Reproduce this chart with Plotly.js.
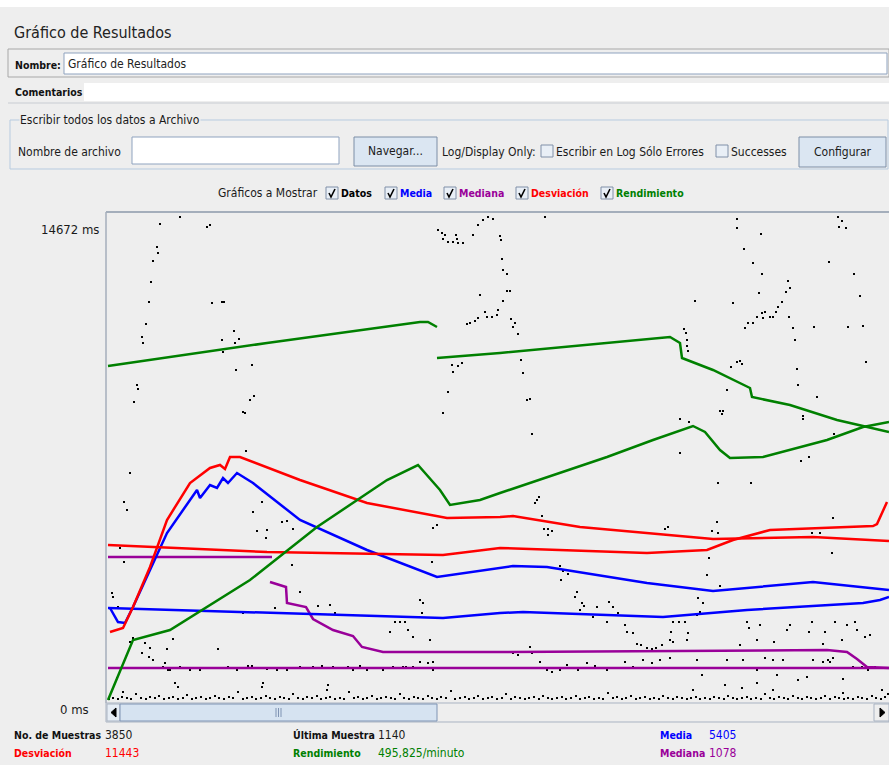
<!DOCTYPE html>
<html><head><meta charset="utf-8">
<script src="https://cdn.plot.ly/plotly-3.0.1.min.js"></script>
<style>html,body{margin:0;padding:0;background:#eeeeee;overflow:hidden;} #g{width:889px;height:765px;}</style>
</head><body><div id="g"></div>
<script>
// ---------- DATA (x = sample column, value = ms) ----------
const yMaxLabel = "14672 ms";
const yMinLabel = "0 ms";

const rendA_x  = [2, 161, 314, 322, 331];
const rendA_ms = [10080, 10770, 11400, 11400, 11250];
const rendB_x  = [331, 394, 564, 574, 576, 607, 644, 646, 684, 731, 757, 783];
const rendB_ms = [10320, 10470, 10950, 10770, 10320, 9960, 9420, 9150, 8910, 8460, 8280, 8100];
const rendC_x  = [2, 27, 64, 144, 211, 281, 312, 334, 344, 374, 394, 501, 547, 587, 599, 614, 624, 657, 721, 757, 783];
const rendC_ms = [60, 1860, 2160, 3660, 5250, 6660, 7110, 6360, 5910, 6060, 6270, 7350, 7860, 8280, 8100, 7560, 7320, 7350, 7860, 8250, 8400];

const desvA_x  = [4, 17, 27, 44, 61, 84, 104, 114, 119, 124, 134, 194, 261, 341, 394, 407, 474, 607, 707, 783];
const desvA_ms = [2100, 2220, 2850, 4050, 5460, 6570, 7020, 7110, 6990, 7350, 7350, 6660, 5970, 5520, 5550, 5580, 5250, 4890, 4950, 4830];
const desvB_x  = [2, 161, 337, 394, 541, 601, 627, 664, 767, 771, 781];
const desvB_ms = [4710, 4500, 4410, 4620, 4470, 4560, 4860, 5160, 5280, 5340, 6000];

const mediaA_x  = [4, 12, 19, 27, 44, 61, 91, 94, 104, 111, 117, 122, 131, 147, 194, 261, 331, 394, 407, 441, 541, 607, 707, 783];
const mediaA_ms = [2820, 2400, 2370, 2850, 3960, 5070, 6360, 6120, 6510, 6420, 6720, 6570, 6870, 6570, 5460, 4560, 3750, 4020, 4080, 4050, 3570, 3330, 3600, 3360];
const mediaB_x  = [2, 161, 337, 394, 417, 557, 641, 757, 774, 783];
const mediaB_ms = [2820, 2670, 2520, 2670, 2700, 2550, 2760, 2970, 3060, 3150];

const medianaA_x  = [2, 166];
const medianaA_ms = [4350, 4350];
const medianaC_x  = [164, 180, 181, 200, 207, 227, 247, 256, 277, 394, 721, 741, 751, 761, 783];
const medianaC_ms = [3600, 3450, 2970, 2850, 2490, 2160, 1980, 1650, 1500, 1500, 1560, 1500, 1290, 1050, 1020];
const medianaB_x  = [2, 783];
const medianaB_ms = [1020, 1020];

// scattered samples [column, ms]
const datos = [
[54,14340],[74,14550],[104,14310],[101,14250],[51,13650],[52,13470],[47,13230],[45,12600],[43,12000],[40,11340],
[36,10950],[37,10770],[31,9510],[32,9390],[28,9000],[106,11970],[116,12000],[118,12000],[128,11130],[116,10860],
[129,10770],[133,10890],[117,10500],[146,10110],[130,9960],[148,9180],[144,9060],[137,8700],[139,8670],[140,7530],
[332,14160],[336,14070],[339,14010],[342,13800],[337,13890],[347,13800],[351,13890],[352,13770],[357,13770],[350,14010],
[367,14010],[372,14310],[377,14460],[382,14550],[387,14490],[374,12210],[361,11340],[364,11370],[369,11430],[372,11520],
[379,11700],[381,11550],[386,11550],[391,11610],[392,11760],[346,10110],[347,9900],[352,10080],[356,10170],[342,9300],
[337,8670],[439,14550],[394,13980],[395,13860],[396,13290],[397,12960],[401,12840],[401,12330],[404,12330],[397,12030],
[405,11490],[409,11370],[407,11250],[412,11040],[415,10260],[417,9870],[421,9060],[424,9090],[426,8040],[589,12030],
[578,11190],[580,11070],[581,10860],[581,10680],[582,10530],[574,8490],[583,8400],[631,14490],[631,14220],[655,14040],
[638,13590],[647,13170],[656,12840],[653,12270],[627,11970],[682,12630],[684,12420],[680,12300],[676,12000],[672,11850],
[670,11700],[667,11550],[664,11550],[659,11700],[656,11670],[657,11520],[651,11550],[647,11370],[642,11370],[639,11220],
[683,11550],[687,11220],[689,10860],[708,11250],[742,11250],[757,11280],[691,9990],[692,9510],[711,9150],[760,10200],
[723,13200],[732,14550],[736,14430],[733,14250],[740,14220],[748,12840],[754,12180],[625,10050],[631,10200],[634,10230],
[636,10140],[621,9360],[614,8730],[617,8730],[616,8640],[697,8580],[697,8490],[728,8040],[703,7350],[574,7470],
[24,6870],[18,6000],[21,5760],[147,5700],[156,6000],[151,5130],[161,5160],[160,4920],[176,5400],[181,5430],
[187,5190],[14,4620],[18,4200],[186,4110],[326,4200],[327,5220],[331,5310],[6,3270],[7,3150],[12,2850],
[27,1920],[24,1800],[39,1770],[44,1620],[36,1470],[43,1350],[47,1260],[59,1170],[64,960],[67,1890],
[61,1590],[112,1590],[137,2670],[169,2820],[194,3300],[212,2880],[224,2910],[229,2670],[289,2400],[294,2400],
[299,2400],[284,2100],[302,2160],[307,1950],[314,3060],[317,2970],[324,1860],[316,2670],[327,960],[327,1200],
[69,570],[72,450],[157,570],[156,450],[222,510],[221,360],[11,720],[17,300],[57,1050],[62,960],
[74,1050],[84,960],[94,960],[104,1020],[112,1020],[122,1050],[131,960],[142,1080],[146,1080],[151,1020],
[161,990],[171,960],[181,960],[194,1050],[207,1050],[216,1080],[227,1050],[242,1050],[247,960],[254,1080],
[261,960],[271,1020],[277,960],[287,1050],[297,1050],[300,1050],[307,1050],[314,1200],[322,1170],[429,5970],
[431,6060],[433,6150],[436,5580],[438,5190],[442,5190],[446,5130],[442,5010],[562,5250],[559,5190],[606,5130],
[611,5400],[612,5070],[612,6570],[645,6570],[695,7230],[727,5520],[706,5070],[714,5070],[726,4470],[603,4320],
[601,3810],[614,3480],[454,4080],[457,3930],[462,3840],[455,3660],[471,3300],[469,3150],[476,2970],[478,2880],
[474,2760],[491,2850],[487,2550],[501,2400],[503,3000],[507,2850],[512,2670],[519,2310],[521,2100],[527,2070],
[531,1740],[535,1710],[541,1620],[546,1590],[550,1620],[556,1710],[565,2100],[567,2400],[573,2400],[579,2400],
[582,2070],[581,1860],[564,1860],[567,1800],[592,3120],[597,2970],[594,2700],[591,2610],[634,1710],[641,2400],
[643,2220],[651,1860],[654,2310],[668,1800],[684,2310],[681,2160],[703,2100],[706,2400],[719,2100],[717,1740],
[729,2400],[736,1860],[741,2310],[749,2400],[751,2160],[759,1950],[764,2010],[727,1320],[724,1200],[424,1650],
[426,1470],[407,1470],[412,1410],[434,1200],[441,960],[446,900],[454,960],[461,1110],[472,960],[481,1170],
[489,1080],[501,960],[519,1200],[527,1050],[537,1260],[546,1170],[554,1260],[564,1320],[591,1260],[596,810],
[619,510],[621,1260],[637,1260],[636,420],[651,960],[659,1320],[667,1260],[671,810],[677,1260],[692,660],
[701,750],[707,1260],[717,1200],[722,1260],[737,690],[737,270],[747,1050],[756,1050],[762,960],[769,1050],
[776,360],[587,360],[651,570],[667,360]
];

// fast samples along the bottom
const banda_x = [
3,7,12,16,21,25,30,35,40,44, 49,53,58,63,67,72,77,81,86,90, 95,100,104,109,113,118,123,127,132,137,
141,146,150,155,160,164,169,174,178,183, 187,192,197,201,206,211,215,220,224,229, 234,238,243,248,252,257,261,266,271,275,
280,285,289,294,298,303,308,312,317,322, 326,331,335,340,345,349,354,359,363,368, 372,377,382,386,391,396,400,405,409,414,
419,423,428,433,437,442,446,451,456,460, 465,470,474,479,483,488,493,497,502,507, 511,516,520,525,530,534,539,544,548,553,
557,562,567,571,576,581,585,590,594,599, 604,608,613,618,622,627,631,636,641,645, 650,655,659,664,668,673,678,682,687,692,
696,701,705,710,715,719,724,729,733,738, 742,747,752,756,761,766,770,775,779,782];
const banda_ms = [
90,120,90,150,120,90,240,120,90,150, 120,180,90,120,150,90,120,210,90,120, 150,90,120,180,120,90,150,120,300,90,
120,150,90,120,180,120,90,150,120,90, 240,120,90,150,120,180,90,120,150,90, 120,90,300,120,150,90,120,180,90,120,
150,120,90,240,120,90,150,120,90,180, 120,90,150,120,330,90,120,150,90,120, 180,90,120,150,90,120,240,90,150,120,
90,120,150,90,180,120,90,120,150,90, 120,180,90,120,150,90,120,90,270,120, 150,90,120,180,90,120,150,90,120,90,
180,120,90,150,120,90,120,150,90,120, 90,150,120,90,180,120,90,120,150,90, 120,90,240,120,90,150,120,90,180,120,
90,150,120,90,120,180,90,150,120,90, 120,90,150,120,90,180,120,90,150,240];

const estadisticas = {muestras: "3850", ultima: "1140", media: "5405", desviacion: "11443", rendimiento: "495,825/minuto", mediana: "1078"};

// ---------- STYLE ----------
const W = 889, H = 765;
const F = '"Liberation Sans Narrow", "Arial Narrow", "DejaVu Sans Condensed", sans-serif';
const BS = 10.5; // bold label size
const C = {datos:'#000000', media:'#0000ff', mediana:'#990099', desv:'#ff0000', rend:'#008000'};
const px = x => x / W, py = y => 1 - y / H;
const shapes = [], ann = [];
function rect(x0,y0,x1,y1,fill,line,lw){
  shapes.push({type:'rect',xref:'paper',yref:'paper',x0:px(x0),x1:px(x1),y0:py(y1),y1:py(y0),
    fillcolor:fill,line:{color:line||'rgba(0,0,0,0)',width:lw===undefined?1:lw}});
}
function lineS(x0,y0,x1,y1,color,w){
  shapes.push({type:'line',xref:'paper',yref:'paper',x0:px(x0),x1:px(x1),y0:py(y0),y1:py(y1),line:{color:color,width:w||1}});
}
function path(pts,color,w,fill){
  const d = pts.map((p,i)=>(i?'L':'M')+px(p[0])+','+py(p[1])).join(' ') + (fill?' Z':'');
  shapes.push({type:'path',xref:'paper',yref:'paper',path:d,line:{color:color,width:w||1},fillcolor:fill||'rgba(0,0,0,0)'});
}
function txt(x,y,s,o){
  o = o||{};
  ann.push({xref:'paper',yref:'paper',x:px(x),y:py(y),text:s,showarrow:false,
    xanchor:o.anchor||'left',yanchor:'middle',borderpad:0,bgcolor:o.bg||'rgba(0,0,0,0)',
    font:{family:o.family||F,size:o.size||12,color:o.color||'#1a1a1a'}});
}
function bold(x,y,s,color){ txt(x,y,'<b>'+s+'</b>',{size:BS,color:color||'#111'}); }
function checkbox(x,y,checked){
  rect(x,y,x+12,y+12,'#e9eff6','#8090a8',1);
  if(checked) path([[x+3,y+6],[x+5,y+10],[x+9,y+2]],'#000',1.6);
}
function button(x0,y0,x1,y1,label){
  rect(x0,y0,x1,y1,'#dbe6f2','#7d8ea6',1);
  txt((x0+x1)/2,(y0+y1)/2,label,{anchor:'center'});
}

// header
rect(0,0,889,7,'#ffffff',null,0);
txt(13,33,'Gráfico de Resultados',{size:16,color:'#222'});
rect(8,49,889,77,'rgba(0,0,0,0)','#a8a8a8',1);
bold(14,65,'Nombre:');
rect(64,53,887,74,'#ffffff','#8fa3bf',1);
txt(67,64,'Gráfico de Resultados',{color:'#222'});
rect(84,83,889,101,'#ffffff',null,0);
lineS(8,103,889,103,'#c8ccd2',1);
bold(14,92,'Comentarios');

// group box
rect(10,120,888,169,'rgba(0,0,0,0)','#b7cbe0',1);
txt(19,120,'Escribir todos los datos a Archivo',{bg:'#eeeeee'});
txt(17,152,'Nombre de archivo');
rect(132,137,339,164,'#ffffff','#8fa3bf',1);
button(354,137,437,166,'Navegar...');
txt(441,152,'Log/Display Only:');
checkbox(541,145,false);
txt(555,152,'Escribir en Log Sólo Errores');
checkbox(716,145,false);
txt(730,152,'Successes');
button(799,137,886,167,'Configurar');

// legend row
txt(217,193,'Gráficos a Mostrar');
checkbox(326,187,true); bold(340,193,'Datos',C.datos);
checkbox(385,187,true); bold(399,193,'Media',C.media);
checkbox(444,187,true); bold(458,193,'Mediana',C.mediana);
checkbox(516,187,true); bold(530,193,'Desviación',C.desv);
checkbox(601,187,true); bold(615,193,'Rendimiento',C.rend);

// y labels
txt(100,229,yMaxLabel,{anchor:'right',size:13});
txt(90,709,yMinLabel,{anchor:'right',size:13});

// plot border
lineS(106,212,889,212,'#a4aebb',2);
lineS(106,212,106,703,'#a4aebb',1.5);

// scrollbar
rect(106,703,889,722,'#eeeeee','#a9b3c2',1);
rect(107,704,120,721,'#e6edf5','#a9b3c2',1);
path([[116,708],[116,717],[111,712.5]],'#000',1,'#000');
rect(120,704,437,721,'#d6e3f1','#7f93b3',1);
lineS(276,708,276,717,'#7f93b3',1); lineS(278.5,708,278.5,717,'#7f93b3',1); lineS(281,708,281,717,'#7f93b3',1);
rect(874,704,889,721,'#eeeeee','#a9b3c2',1);
path([[880,708],[880,717],[885,712.5]],'#000',1,'#000');

// stats
bold(13,735,'No. de Muestras'); txt(104,735,estadisticas.muestras);
bold(292,735,'Última Muestra'); txt(377,735,estadisticas.ultima);
bold(659,735,'Media',C.media); txt(708,735,estadisticas.media,{color:C.media});
bold(13,753,'Desviación',C.desv); txt(104,753,estadisticas.desviacion,{color:C.desv});
bold(292,753,'Rendimiento',C.rend); txt(377,753,estadisticas.rendimiento,{color:C.rend});
bold(659,753,'Mediana',C.mediana); txt(708,753,estadisticas.mediana,{color:C.mediana});

// ---------- TRACES ----------
function ln(x,y,color){return {x:x,y:y,type:'scatter',mode:'lines',line:{color:color,width:2.5},hoverinfo:'skip',showlegend:false};}
const dotStyle = {type:'scatter',mode:'markers',marker:{symbol:'square',size:2,color:C.datos},hoverinfo:'skip',showlegend:false,cliponaxis:true};
const traces = [
  Object.assign({x:banda_x,y:banda_ms},dotStyle),
  Object.assign({x:datos.map(d=>d[0]),y:datos.map(d=>d[1])},dotStyle),
  ln(medianaB_x,medianaB_ms,C.mediana),
  ln(medianaA_x,medianaA_ms,C.mediana),
  ln(medianaC_x,medianaC_ms,C.mediana),
  ln(mediaB_x,mediaB_ms,C.media),
  ln(mediaA_x,mediaA_ms,C.media),
  ln(desvB_x,desvB_ms,C.desv),
  ln(desvA_x,desvA_ms,C.desv),
  ln(rendC_x,rendC_ms,C.rend),
  ln(rendA_x,rendA_ms,C.rend),
  ln(rendB_x,rendB_ms,C.rend)
];

const layout = {
  width:W, height:H, margin:{l:0,r:0,t:0,b:0},
  paper_bgcolor:'#eeeeee', plot_bgcolor:'#eeeeee',
  showlegend:false,
  xaxis:{domain:[106/W,1],range:[0,783],showgrid:false,zeroline:false,showticklabels:false,ticks:'',showline:false,fixedrange:true},
  yaxis:{domain:[(H-702)/H,(H-213)/H],range:[0,14670],showgrid:false,zeroline:false,showticklabels:false,ticks:'',showline:false,fixedrange:true},
  shapes:shapes, annotations:ann
};
Plotly.newPlot('g',traces,layout,{displayModeBar:false,staticPlot:true});
</script></body></html>
